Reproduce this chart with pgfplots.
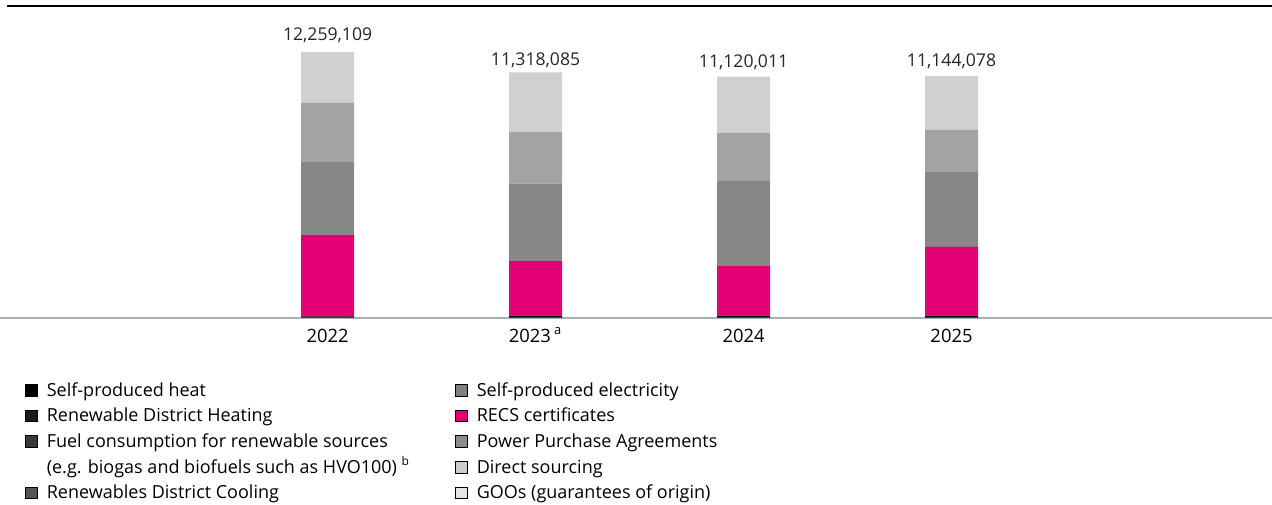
\documentclass[border=0pt]{standalone}
\usepackage{fontspec}
\setmainfont{Open Sans}
\usepackage{pgfplots}
\pgfplotsset{compat=1.18}
\usepackage{pgfplotstable}
\definecolor{tmagenta}{HTML}{E20074}
\definecolor{bdark}{HTML}{878787}
\definecolor{bmid}{HTML}{A3A3A3}
\definecolor{blight}{HTML}{D0D0D0}
\definecolor{lg1}{HTML}{000000}
\definecolor{lg2}{HTML}{1C1C1C}
\definecolor{lg3}{HTML}{383838}
\definecolor{lg4}{HTML}{555555}
\definecolor{lg5}{HTML}{7F7F7F}
\definecolor{lg7}{HTML}{8A8A8A}
\definecolor{lg8}{HTML}{CCCCCC}
\definecolor{lg9}{HTML}{E5E5E5}

\pgfplotstableread{
x heat recs dark mid light label
0 55000 3754000 3371000 2738000 2341109 12,259,109
1 91000 2510000 3579000 2386000 2752085 11,318,085
2 92000 2287000 3957000 2208000 2576011 11,120,011
3 92000 3172000 3463000 1939000 2478078 11,144,078
}\datatable

\pgfplotsset{
  sq/.style={legend image code/.code={\fill[fill=#1] (0pt,0pt) rectangle (6pt,5.9pt);}},
  mylegend/.style={
    legend cell align=left,
    legend style={draw=none, fill=none, inner sep=0pt, outer sep=0pt,
      at={(axis description cs:0,0)}, anchor=north west,
      xshift=#1, yshift=-32.4pt,
      row sep=4pt, column sep=4.5pt,
      nodes={inner sep=0pt, text height=6.85pt, text depth=2pt, font=\fontsize{9}{11}\selectfont},
      cells={anchor=base west}}
  }
}

\begin{document}
\begin{tikzpicture}
\path[use as bounding box] (0pt,-93.25pt) rectangle (636pt,158.75pt);
\begin{axis}[
  at={(0pt,0pt)}, anchor=south west,
  scale only axis, width=636pt, height=156pt,
  ybar stacked, bar width=26.5pt,
  xmin=-1.575, xmax=4.541, ymin=0, ymax=14.41e6,
  axis x line=bottom, axis y line=none,
  x axis line style={-, draw=black!32, line width=1pt},
  xtick={0,1,2,3},
  xticklabels={2022,2023\,\textsuperscript{a},2024,2025},
  major tick length=0pt,
  xticklabel style={anchor=base, yshift=-12.25pt, font=\fontsize{9.2}{11}\selectfont},
  ytick=\empty,
  clip=false,
  mylegend=12.5pt,
]
\addlegendimage{sq=lg1}\addlegendentry{Self-produced heat}
\addlegendimage{sq=lg2}\addlegendentry{Renewable District Heating}
\addlegendimage{sq=lg3}\addlegendentry{Fuel consumption for renewable sources}
\addlegendimage{empty legend}\addlegendentry{(e.g. biogas and biofuels such as HVO100) \textsuperscript{b}}
\addlegendimage{sq=lg4}\addlegendentry{Renewables District Cooling}

\addplot[fill=black, draw=none] table[x=x, y=heat]{\datatable};
\addplot[fill=tmagenta, draw=none] table[x=x, y=recs]{\datatable};
\addplot[fill=bdark, draw=none] table[x=x, y=dark]{\datatable};
\addplot[fill=bmid, draw=none] table[x=x, y=mid]{\datatable};
\addplot[fill=blight, draw=none, nodes near coords, point meta=explicit symbolic,
  nodes near coords style={anchor=base, yshift=18.4pt, font=\fontsize{8.8}{11}\selectfont, text=black!85}]
  table[x=x, y=light, meta=label]{\datatable};

\draw[line width=1pt, black] (rel axis cs:0.0055,1) -- (rel axis cs:1,1);
\end{axis}

\begin{axis}[
  at={(0pt,0pt)}, anchor=south west,
  scale only axis, width=636pt, height=156pt,
  xmin=0, xmax=1, ymin=0, ymax=1, hide axis,
  mylegend=227.5pt,
]
\addlegendimage{sq=lg5}\addlegendentry{Self-produced electricity}
\addlegendimage{sq=tmagenta}\addlegendentry{RECS certificates}
\addlegendimage{sq=lg7}\addlegendentry{Power Purchase Agreements}
\addlegendimage{sq=lg8}\addlegendentry{Direct sourcing}
\addlegendimage{sq=lg9}\addlegendentry{GOOs (guarantees of origin)}
\end{axis}
\end{tikzpicture}
\end{document}
